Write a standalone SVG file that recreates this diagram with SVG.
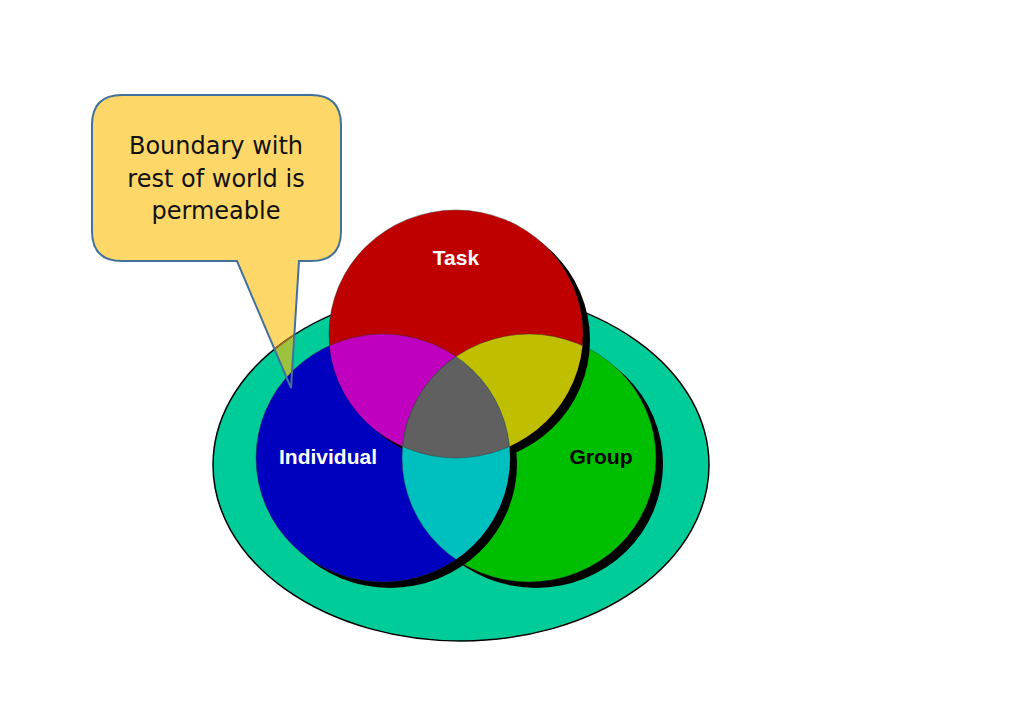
<svg xmlns="http://www.w3.org/2000/svg" width="1024" height="724" viewBox="0 0 1024 724">
<style>
.lbl{font-family:"Liberation Sans",Arial,sans-serif;font-weight:bold;font-size:21px;text-anchor:middle}
.call{font-family:"DejaVu Sans","Verdana",sans-serif;font-size:24px;text-anchor:middle;fill:#111}
.shadow{fill:#000}
.edge{stroke:#333;stroke-width:0.6;stroke-opacity:0.7}
</style>
<defs>
<ellipse id="cTask" cx="456" cy="334" rx="127" ry="124"/>
<ellipse id="cInd" cx="383" cy="458" rx="127" ry="124"/>
<ellipse id="cGrp" cx="529" cy="458" rx="127" ry="124"/>
<ellipse id="world" cx="461" cy="465" rx="248" ry="176"/>
<path id="bubble" d="M122,95 H311 Q341,95 341,125 V231 Q341,261 311,261 H299 L291,388 L237,261 H122 Q92,261 92,231 V125 Q92,95 122,95 Z"/>
<clipPath id="clipTask"><use href="#cTask"/></clipPath>
<clipPath id="clipInd"><use href="#cInd"/></clipPath>
<clipPath id="clipGrp"><use href="#cGrp"/></clipPath>
<clipPath id="clipBubble"><use href="#bubble"/></clipPath>
</defs>
<rect width="1024" height="724" fill="#fff"/>
<g id="boundary">
<use href="#world" fill="#00CC99"/>
</g>
<g id="callout-fill">
<use href="#bubble" fill="#FDD868"/>
<g clip-path="url(#clipBubble)"><use href="#world" fill="#9DC33E"/></g>
</g>
<g id="boundary-edge">
<use href="#world" fill="none" stroke="#000" stroke-width="1.5"/>
<g clip-path="url(#clipBubble)"><use href="#world" fill="none" stroke="#A86A2A" stroke-width="1.6"/></g>
</g>
<g id="group">
<use href="#cGrp" class="shadow" transform="translate(7,6)"/>
<use href="#cGrp" fill="#00BF00" class="edge"/>
</g>
<g id="individual">
<use href="#cInd" class="shadow" transform="translate(7,6)"/>
<use href="#cInd" fill="#0000BF" class="edge"/>
</g>
<g id="task">
<use href="#cTask" class="shadow" transform="translate(7,6)"/>
<use href="#cTask" fill="#BF0000" class="edge"/>
</g>
<g id="overlaps">
<g clip-path="url(#clipTask)"><use href="#cInd" fill="#BF00BF" class="edge"/></g>
<g clip-path="url(#clipTask)"><use href="#cGrp" fill="#BFBF00" class="edge"/></g>
<g clip-path="url(#clipInd)"><use href="#cGrp" fill="#00BFBF" class="edge"/></g>
<g clip-path="url(#clipInd)"><g clip-path="url(#clipGrp)"><use href="#cTask" fill="#606060" class="edge"/></g></g>
<g clip-path="url(#clipTask)"><g clip-path="url(#clipGrp)"><use href="#cInd" fill="none" class="edge"/></g></g>
<g clip-path="url(#clipTask)"><g clip-path="url(#clipInd)"><use href="#cGrp" fill="none" class="edge"/></g></g>
</g>
<g id="labels">
<text class="lbl" x="456" y="265" fill="#fff">Task</text>
<text class="lbl" x="328" y="464" fill="#fff">Individual</text>
<text class="lbl" x="601" y="464" fill="#000">Group</text>
</g>
<g id="callout">
<use href="#bubble" fill="none" stroke="#41719C" stroke-width="2"/>
<text class="call" x="216" y="154">Boundary with</text>
<text class="call" x="216" y="187">rest of world is</text>
<text class="call" x="216" y="219">permeable</text>
</g>
</svg>
